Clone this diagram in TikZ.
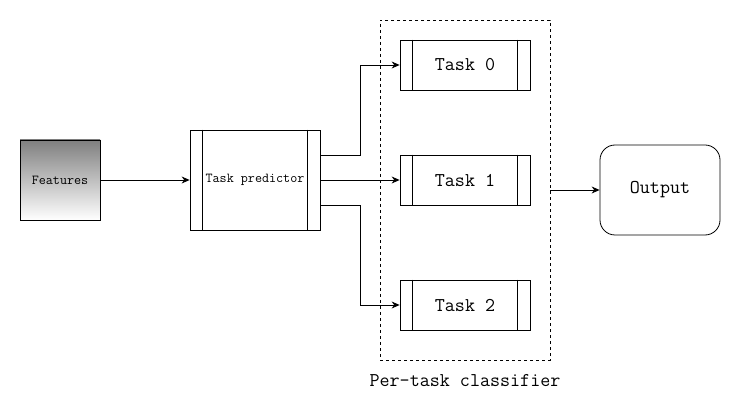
\documentclass[tikz,border=0pt]{standalone}
\usetikzlibrary{arrows.meta}

\tikzset{
  box/.style={draw, line width=0.8pt, inner sep=0pt, font=\ttfamily},
  proc/.style={box, minimum width=130pt, minimum height=50pt,
    font=\ttfamily\fontsize{19.5}{19.5}\selectfont},
  link/.style={line width=0.8pt, -{Stealth[length=8pt,width=7pt]}},
}

\begin{document}
\begin{tikzpicture}[x=1pt,y=-1pt]
        \useasboundingbox (0,0) rectangle (741,411);
        % input features
        \node[box, minimum width=80pt, minimum height=80pt,
          top color=gray, bottom color=white,
          font=\ttfamily\fontsize{13.7}{13.7}\selectfont] (feat) at (60,180) {Features};
        % predictor box with side bars
        \node[box, minimum width=130pt, minimum height=100pt,
          font=\ttfamily\fontsize{13.7}{13.7}\selectfont] (pred) at (255,180) {Task predictor};
        \draw[line width=0.8pt] ([xshift=13pt]pred.north west) -- ([xshift=13pt]pred.south west);
        \draw[line width=0.8pt] ([xshift=-13pt]pred.north east) -- ([xshift=-13pt]pred.south east);
        % group of classifiers
        \node[draw, dashed, line width=0.6pt, minimum width=170pt, minimum height=340pt] (cls) at (465,190) {};
        \node[font=\ttfamily\fontsize{19.5}{19.5}\selectfont] (clslabel) at (465,381) {Per-task classifier};
        \foreach \n/\y in {0/65,1/180,2/305} {
          \node[proc] (t\n) at (465,\y) {Task \n};
          \draw[line width=0.8pt] ([xshift=13pt]t\n.north west) -- ([xshift=13pt]t\n.south west);
          \draw[line width=0.8pt] ([xshift=-13pt]t\n.north east) -- ([xshift=-13pt]t\n.south east);
        }
        % output
        \node[box, rounded corners=15pt, minimum width=120pt, minimum height=90pt,
          font=\ttfamily\fontsize{19.5}{19.5}\selectfont] (out) at (660,190) {Output};
        % connectors
        \draw[link] (feat) -- (pred);
        \draw[link] ([yshift=25pt]pred.east) -- ++(40,0) |- (t0.west);
        \draw[link] (pred.east) -- (t1.west);
        \draw[link] ([yshift=-25pt]pred.east) -- ++(40,0) |- (t2.west);
        \draw[link] (cls.east) -- (out.west);
      \end{tikzpicture}
\end{document}
